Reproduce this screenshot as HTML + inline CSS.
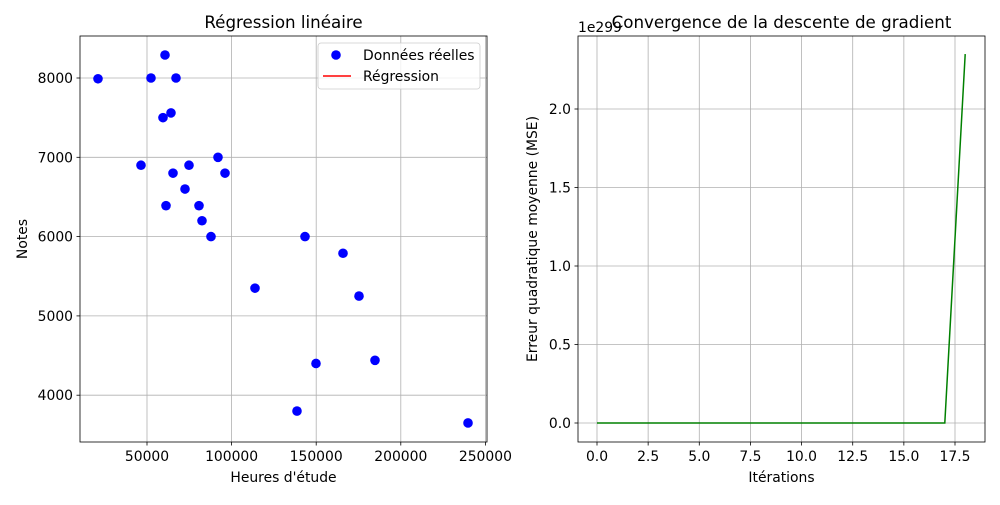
<!DOCTYPE html>
<html><head><meta charset="utf-8"><style>
body{margin:0;background:#fff;}
svg text{font-family:"DejaVu Sans","Liberation Sans",sans-serif;fill:#000;}
</style></head><body>
<svg id="chart" width="1000" height="500" xmlns="http://www.w3.org/2000/svg">
<g id="left"></g>
<g id="right"></g>
</svg>
<script>
const hours=[21040,46450,52360,60640,59450,64180,67140,61230,65370,72460,74820,80730,82500,87820,91960,96100,113830,143380,149880,165840,175300,184750,138650,239720];
const grades=[7990,6900,8000,8290,7500,7560,8000,6390,6800,6600,6900,6390,6200,6000,7000,6800,5350,6000,4400,5790,5250,4440,3800,3650];
const xTicksL=[50000,100000,150000,200000,250000];
const yTicksL=[4000,5000,6000,7000,8000];
const iterations=[0,1,2,3,4,5,6,7,8,9,10,11,12,13,14,15,16,17,18];
const mse=[0,0,0,0,0,0,0,0,0,0,0,0,0,0,0,0,0,0,2.35];
const xTicksR=[0,2.5,5,7.5,10,12.5,15,17.5];
const yTicksR=[0,0.5,1.0,1.5,2.0];
const yTickLabelsR=["0.0","0.5","1.0","1.5","2.0"];

const NS="http://www.w3.org/2000/svg";
const FT=13.9, FL=13.9, FTitle=16.7;
function mk(parent,tag,attrs,text){const e=document.createElementNS(NS,tag);for(const k in attrs)e.setAttribute(k,attrs[k]);if(text!==undefined)e.textContent=text;parent.appendChild(e);return e;}

const L=document.getElementById('left');
const lx=v=>147+(v-50000)/50000*84.6;
const ly=v=>78+(8000-v)/1000*79.3;
const AL={x0:80,x1:487,y0:36,y1:442};
for(const t of xTicksL){const x=lx(t);
 const g=mk(L,'line',{x1:x,x2:x,y1:AL.y0,y2:AL.y1,stroke:'#b0b0b0','stroke-width':0.8});
 
 
 mk(L,'line',{x1:x,x2:x,y1:AL.y1,y2:AL.y1+3.5,stroke:'#000','stroke-width':0.8});
 const tl=mk(L,'text',{x:x,y:AL.y1+19,'font-size':FT,'text-anchor':'middle'},String(t));
 
 
}
for(const t of yTicksL){const y=ly(t);
 const g=mk(L,'line',{x1:AL.x0,x2:AL.x1,y1:y,y2:y,stroke:'#b0b0b0','stroke-width':0.8});
 
 
 mk(L,'line',{x1:AL.x0-3.5,x2:AL.x0,y1:y,y2:y,stroke:'#000','stroke-width':0.8});
 const tl=mk(L,'text',{x:AL.x0-7,y:y+5,'font-size':FT,'text-anchor':'end'},String(t));
 
 
}
hours.forEach((h,i)=>{const c=mk(L,'circle',{cx:lx(h),cy:ly(grades[i]),r:4.8,fill:'#0000ff'});
 
 });
mk(L,'rect',{x:AL.x0,y:AL.y0,width:AL.x1-AL.x0,height:AL.y1-AL.y0,fill:'none',stroke:'#000','stroke-width':0.8});
let t=mk(L,'text',{x:283.5,y:28,'font-size':FTitle,'text-anchor':'middle'},'Régression linéaire');
t=mk(L,'text',{x:283.5,y:482,'font-size':FL,'text-anchor':'middle'},"Heures d'étude");
t=mk(L,'text',{x:27,y:239,'font-size':FL,'text-anchor':'middle',transform:'rotate(-90 27 239)'},'Notes');
const lg=mk(L,'g',{});
mk(lg,'rect',{x:318,y:43,width:162,height:46,rx:3,fill:'#fff','fill-opacity':0.8,stroke:'#ccc','stroke-width':0.8});
mk(lg,'circle',{cx:336,cy:55,r:4.8,fill:'#0000ff'});
mk(lg,'text',{x:363,y:60,'font-size':FL},'Données réelles');
mk(lg,'line',{x1:323,x2:351,y1:76,y2:76,stroke:'#ff0000','stroke-width':1.5});
mk(lg,'text',{x:363,y:81,'font-size':FL},'Régression');

const R=document.getElementById('right');
const AR={x0:578,x1:985,y0:36,y1:442};
const rx=v=>597+v*20.457;
const ry=v=>423-v*157;
for(const tk of xTicksR){const x=rx(tk);
 const g=mk(R,'line',{x1:x,x2:x,y1:AR.y0,y2:AR.y1,stroke:'#b0b0b0','stroke-width':0.8});
 
 
 mk(R,'line',{x1:x,x2:x,y1:AR.y1,y2:AR.y1+3.5,stroke:'#000','stroke-width':0.8});
 const tl=mk(R,'text',{x:x,y:AR.y1+19,'font-size':FT,'text-anchor':'middle'},tk.toFixed(1));
 
 
}
yTicksR.forEach((tk,i)=>{const y=ry(tk);
 const g=mk(R,'line',{x1:AR.x0,x2:AR.x1,y1:y,y2:y,stroke:'#b0b0b0','stroke-width':0.8});
 
 
 mk(R,'line',{x1:AR.x0-3.5,x2:AR.x0,y1:y,y2:y,stroke:'#000','stroke-width':0.8});
 const tl=mk(R,'text',{x:AR.x0-7,y:y+5,'font-size':FT,'text-anchor':'end'},yTickLabelsR[i]);
 
 
});
const pts=iterations.map((it,i)=>rx(it).toFixed(1)+','+ry(mse[i]).toFixed(1)).join(' ');
const pl=mk(R,'polyline',{points:pts,fill:'none',stroke:'#008000','stroke-width':1.5});


mk(R,'rect',{x:AR.x0,y:AR.y0,width:AR.x1-AR.x0,height:AR.y1-AR.y0,fill:'none',stroke:'#000','stroke-width':0.8});
t=mk(R,'text',{x:781.5,y:28,'font-size':FTitle,'text-anchor':'middle'},'Convergence de la descente de gradient');
t=mk(R,'text',{x:578,y:32,'font-size':FT},'1e299');
t=mk(R,'text',{x:781.5,y:482,'font-size':FL,'text-anchor':'middle'},'Itérations');
t=mk(R,'text',{x:537,y:239,'font-size':FL,'text-anchor':'middle',transform:'rotate(-90 537 239)'},'Erreur quadratique moyenne (MSE)');
</script>
</body></html>
